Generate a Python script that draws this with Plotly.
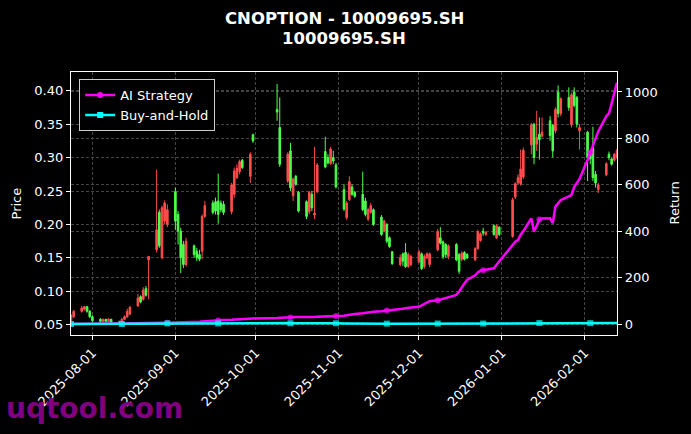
import plotly.graph_objects as go

# ---------------- data ----------------
dates = [
    "2025-07-24", "2025-07-25", "2025-07-28", "2025-07-29", "2025-07-30", "2025-07-31",
    "2025-08-01", "2025-08-04", "2025-08-05", "2025-08-06", "2025-08-07", "2025-08-08",
    "2025-08-11", "2025-08-12", "2025-08-13", "2025-08-14", "2025-08-15",
    "2025-08-18", "2025-08-19", "2025-08-20", "2025-08-21", "2025-08-22",
    "2025-08-25", "2025-08-26", "2025-08-27", "2025-08-28", "2025-08-29",
    "2025-09-01", "2025-09-02", "2025-09-03", "2025-09-04", "2025-09-05",
    "2025-09-08", "2025-09-09", "2025-09-10", "2025-09-11", "2025-09-12",
    "2025-09-15", "2025-09-16", "2025-09-17", "2025-09-18", "2025-09-19",
    "2025-09-22", "2025-09-23", "2025-09-24", "2025-09-25", "2025-09-26",
    "2025-09-29", "2025-09-30", "2025-10-09", "2025-10-10",
    "2025-10-13", "2025-10-14", "2025-10-15", "2025-10-16", "2025-10-17",
    "2025-10-20", "2025-10-21", "2025-10-22", "2025-10-23", "2025-10-24",
    "2025-10-27", "2025-10-28", "2025-10-29", "2025-10-30", "2025-10-31",
    "2025-11-03", "2025-11-04", "2025-11-05", "2025-11-06", "2025-11-07",
    "2025-11-10", "2025-11-11", "2025-11-12", "2025-11-13", "2025-11-14",
    "2025-11-17", "2025-11-18", "2025-11-19", "2025-11-20", "2025-11-21",
    "2025-11-24", "2025-11-25", "2025-11-26", "2025-11-27", "2025-11-28",
    "2025-12-01", "2025-12-02", "2025-12-03", "2025-12-04", "2025-12-05",
    "2025-12-08", "2025-12-09", "2025-12-10", "2025-12-11", "2025-12-12",
    "2025-12-15", "2025-12-16", "2025-12-17", "2025-12-18", "2025-12-19",
    "2025-12-22", "2025-12-23", "2025-12-24", "2025-12-25", "2025-12-26",
    "2025-12-29", "2025-12-30", "2025-12-31",
    "2026-01-05", "2026-01-06", "2026-01-07", "2026-01-08", "2026-01-09",
    "2026-01-12", "2026-01-13", "2026-01-14", "2026-01-15", "2026-01-16",
    "2026-01-19", "2026-01-20", "2026-01-21", "2026-01-22", "2026-01-23",
    "2026-01-26", "2026-01-27", "2026-01-28", "2026-01-29", "2026-01-30",
    "2026-02-02", "2026-02-03", "2026-02-04", "2026-02-05", "2026-02-06",
    "2026-02-09", "2026-02-10", "2026-02-11", "2026-02-12", "2026-02-13",
]

open_ = [
    .056, .062, .070, .073, .077, .070,
    .062, .058, .055, .058, .055, .058,
    .054, .052, .058, .062, .066,
    .078, .092, .088, .104, .147,
    .162, .218, .150, .205, .200,
    .249, .215, .190, .170, .140,
    .168, .160, .155, .160, .212,
    .232, .234, .235, .232, .230,
    .219, .245, .270, .279, .296,
    .272, .334, .372, .345,
    .265, .310, .243, .272, .248,
    .234, .219, .245, .214, .249,
    .309, .300, .291, .300, .289,
    .252, .210, .237, .256, .248,
    .245, .235, .208, .218, .222,
    .211, .190, .200, .180, .159,
    .140, .156, .158, .137, .140,
    .144, .156, .137, .150, .140,
    .162, .180, .174, .170, .152,
    .170, .155, .148, .158, .155,
    .147, .164, .176, .190, .185,
    .198, .180, .196,
    .182, .241, .262, .261, .271,
    .319, .350, .320, .335, .332,
    .355, .348, .340, .398, .366,
    .390, .349, .398, .390, .340,
    .338, .305, .315, .275, .252,
    .274, .305, .298, .296, .300,
]
high = [
    .066, .072, .078, .078, .078, .072,
    .064, .060, .059, .059, .060, .059,
    .056, .060, .064, .074, .078,
    .096, .094, .106, .108, .153,
    .282, .222, .228, .236, .230,
    .255, .220, .195, .175, .180,
    .170, .165, .162, .215, .235,
    .236, .240, .276, .236, .235,
    .262, .285, .290, .297, .298,
    .308, .336, .410, .390,
    .308, .322, .270, .274, .250,
    .236, .250, .250, .316, .292,
    .331, .305, .316, .310, .292,
    .260, .235, .272, .260, .250,
    .279, .240, .225, .232, .224,
    .214, .207, .202, .182, .160,
    .155, .158, .172, .158, .155,
    .162, .158, .155, .158, .158,
    .193, .196, .176, .172, .170,
    .172, .157, .160, .160, .157,
    .166, .192, .188, .195, .190,
    .200, .200, .197,
    .240, .263, .275, .312, .315,
    .352, .352, .370, .360, .360,
    .362, .350, .375, .408, .390,
    .405, .397, .405, .392, .350,
    .340, .310, .346, .280, .262,
    .293, .309, .300, .307, .313,
]
low = [
    .055, .060, .068, .071, .068, .060,
    .054, .053, .054, .054, .054, .053,
    .051, .051, .057, .060, .064,
    .077, .082, .086, .092, .088,
    .158, .165, .148, .200, .196,
    .192, .170, .127, .135, .137,
    .150, .145, .145, .148, .210,
    .215, .215, .201, .218, .214,
    .215, .240, .268, .275, .283,
    .262, .322, .355, .286,
    .262, .250, .235, .258, .218,
    .208, .215, .220, .208, .247,
    .284, .290, .289, .290, .254,
    .220, .207, .235, .243, .240,
    .220, .212, .205, .216, .198,
    .183, .188, .172, .165, .140,
    .137, .138, .135, .135, .137,
    .142, .132, .134, .148, .136,
    .160, .170, .148, .150, .148,
    .145, .126, .145, .146, .148,
    .145, .162, .174, .183, .183,
    .183, .178, .183,
    .180, .238, .260, .258, .268,
    .305, .290, .310, .297, .330,
    .325, .300, .336, .360, .362,
    .370, .345, .375, .345, .312,
    .265, .290, .265, .255, .247,
    .272, .296, .288, .294, .298,
]
close = [
    .064, .070, .075, .077, .070, .062,
    .056, .055, .058, .055, .058, .054,
    .052, .058, .062, .070, .076,
    .090, .084, .102, .094, .152,
    .192, .168, .225, .232, .222,
    .205, .190, .150, .140, .175,
    .155, .150, .148, .212, .228,
    .218, .220, .215, .222, .218,
    .259, .280, .284, .294, .285,
    .305, .325, .368, .290,
    .305, .255, .268, .260, .220,
    .212, .248, .225, .217, .289,
    .286, .292, .313, .295, .256,
    .223, .232, .264, .245, .242,
    .222, .215, .222, .228, .200,
    .185, .205, .175, .167, .141,
    .150, .145, .137, .155, .152,
    .159, .134, .152, .156, .156,
    .189, .172, .152, .155, .168,
    .147, .130, .157, .148, .150,
    .164, .189, .186, .187, .188,
    .185, .198, .185,
    .237, .261, .270, .283, .311,
    .349, .300, .330, .327, .338,
    .333, .310, .372, .366, .388,
    .375, .394, .378, .350, .345,
    .300, .298, .270, .262, .259,
    .291, .300, .290, .305, .311,
]

ai_strategy = [
    0, 0.3, 0.5, 1, 1, 1.2,
    1.2, 1.3, 1.5, 1.5, 1.8, 1.8,
    2, 2, 2.3, 2.6, 2.8,
    3, 3.2, 3.5, 3.6, 4,
    4.5, 4.8, 5, 5.2, 5.5,
    6, 6.5, 7, 7.5, 8,
    9, 9.5, 10, 11, 12,
    13, 14, 15, 16, 17,
    18, 19, 20, 21, 22,
    23, 24, 26, 27,
    28, 28, 29, 30, 30,
    29, 28, 29, 30, 31,
    31, 32, 33, 33, 34,
    36, 38, 40, 41, 43,
    46, 48, 50, 51, 53,
    55, 56, 58, 60, 62,
    64, 66, 68, 70, 71,
    74, 80, 88, 93, 98,
    102, 105, 108, 110, 115,
    125, 140, 160, 175, 190,
    210, 222, 230, 232, 234,
    240, 255, 270,
    343, 355, 362, 385, 400,
    455, 398, 427, 450, 455,
    456, 434, 506, 520, 534,
    550, 556, 590, 610, 625,
    707, 740, 770, 800, 830,
    895, 908, 950, 1000, 1040,
]

buy_and_hold = [
    0, 0.1, 0.2, 0.2, 0.1, 0,
    -0.1, -0.1, -0.1, -0.1, -0.1, -0.2,
    -0.2, -0.1, 0, 0.1, 0.2,
    0.4, 0.3, 0.6, 0.5, 1.4,
    2.0, 1.6, 2.5, 2.6, 2.5,
    2.2, 2.0, 1.3, 1.2, 1.7,
    1.4, 1.3, 1.3, 2.3, 2.6,
    2.4, 2.4, 2.4, 2.5, 2.4,
    3.0, 3.4, 3.4, 3.6, 3.5,
    3.8, 4.1, 4.7, 3.5,
    3.8, 3.0, 3.2, 3.1, 2.4,
    2.3, 2.9, 2.5, 2.4, 3.5,
    3.5, 3.6, 3.9, 3.6, 3.0,
    2.5, 2.6, 3.1, 2.8, 2.8,
    2.5, 2.4, 2.5, 2.6, 2.1,
    1.9, 2.2, 1.7, 1.6, 1.2,
    1.3, 1.3, 1.1, 1.4, 1.4,
    1.5, 1.1, 1.4, 1.4, 1.4,
    2.0, 1.7, 1.4, 1.4, 1.6,
    1.3, 1.0, 1.5, 1.3, 1.3,
    1.6, 2.0, 1.9, 1.9, 1.9,
    1.9, 2.1, 1.9,
    2.7, 3.1, 3.2, 3.4, 3.9,
    4.5, 3.7, 4.2, 4.1, 4.3,
    4.2, 3.8, 4.8, 4.7, 5.1,
    4.9, 5.2, 4.9, 4.5, 4.4,
    3.7, 3.7, 3.2, 3.1, 3.0,
    3.5, 3.7, 3.5, 3.8, 3.9,
]

month_ticks = ["2025-08-01", "2025-09-01", "2025-10-01", "2025-11-01",
               "2025-12-01", "2026-01-01", "2026-02-01"]
price_ticks = [0.05, 0.10, 0.15, 0.20, 0.25, 0.30, 0.35, 0.40]
return_ticks = [0, 200, 400, 600, 800, 1000]

# ---------------- styling ----------------
RED = "#ff4d4d"
GREEN = "#4dff4d"
MAGENTA = "#ff00ff"
CYAN = "#00ffff"
GRID = "#444444"
FONT = "DejaVu Sans"

MARK_EVERY = 13
marker_sizes = [6 if i % MARK_EVERY == 0 else 0 for i in range(len(dates))]

fig = go.Figure()

fig.add_trace(go.Candlestick(
    x=dates, open=open_, high=high, low=low, close=close,
    increasing=dict(line=dict(color=RED, width=1), fillcolor=RED),
    decreasing=dict(line=dict(color=GREEN, width=1), fillcolor=GREEN),
    whiskerwidth=0, showlegend=False, hoverinfo="skip",
))

fig.add_trace(go.Scatter(
    x=dates, y=ai_strategy, yaxis="y2", mode="lines+markers",
    line=dict(color=MAGENTA, width=2.5),
    marker=dict(size=marker_sizes, symbol="circle", color=MAGENTA, line=dict(width=0)),
    showlegend=False,
))
fig.add_trace(go.Scatter(
    x=dates, y=buy_and_hold, yaxis="y2", mode="lines+markers",
    line=dict(color=CYAN, width=2.5),
    marker=dict(size=marker_sizes, symbol="square", color=CYAN, line=dict(width=0)),
    showlegend=False,
))
# legend entries
fig.add_trace(go.Scatter(
    x=[None], y=[None], yaxis="y2", mode="lines+markers", name="AI Strategy",
    line=dict(color=MAGENTA, width=2.5),
    marker=dict(size=6, symbol="circle", color=MAGENTA),
))
fig.add_trace(go.Scatter(
    x=[None], y=[None], yaxis="y2", mode="lines+markers", name="Buy-and-Hold",
    line=dict(color=CYAN, width=2.5),
    marker=dict(size=6, symbol="square", color=CYAN),
))

axis_common = dict(
    showline=True, linecolor="white", linewidth=1.2,
    ticks="outside", tickcolor="white", ticklen=4,
    tickfont=dict(color="white", size=13, family=FONT),
    gridcolor=GRID, griddash="3px,2px", gridwidth=0.8, zeroline=False,
    automargin=False,
)

fig.update_layout(
    width=691, height=434,
    paper_bgcolor="black", plot_bgcolor="black",
    font=dict(family=FONT, color="white", size=13),
    margin=dict(l=71, r=74, t=72, b=99),
    boxgap=0.15,
    xaxis=dict(
        type="date", range=["2025-07-24", "2026-02-13"],
        tickvals=month_ticks, ticktext=month_ticks, tickangle=-45,
        showgrid=True, mirror=True, rangeslider=dict(visible=False),
        **axis_common,
    ),
    yaxis=dict(
        range=[0.0346, 0.428], tickvals=price_ticks, tickformat=".2f",
        showgrid=True, mirror=True, **axis_common,
    ),
    yaxis2=dict(
        overlaying="y", side="right", range=[-47.4, 1086],
        tickvals=return_ticks, showgrid=True, **axis_common,
    ),
    legend=dict(
        x=0.015, y=0.973, xanchor="left", yanchor="top",
        bgcolor="black", bordercolor="#cccccc", borderwidth=1,
        font=dict(color="white", size=13, family=FONT),
    ),
    showlegend=True,
    annotations=[
        dict(text="<b>CNOPTION - 10009695.SH</b>", x=0.5, y=1.2053, xref="paper", yref="paper",
             showarrow=False, font=dict(size=16.5, color="white", family=FONT),
             xanchor="center", yanchor="middle"),
        dict(text="<b>10009695.SH</b>", x=0.5, y=1.1255, xref="paper", yref="paper",
             showarrow=False, font=dict(size=16.5, color="white", family=FONT),
             xanchor="center", yanchor="middle"),
        dict(text="Price", x=-0.099, y=0.5, xref="paper", yref="paper", textangle=-90,
             showarrow=False, font=dict(size=13, color="white", family=FONT),
             xanchor="center", yanchor="middle"),
        dict(text="Return", x=1.1044, y=0.5, xref="paper", yref="paper", textangle=-90,
             showarrow=False, font=dict(size=13, color="white", family=FONT),
             xanchor="center", yanchor="middle"),
        dict(text="<b>uqtool.com</b>", x=-0.122, y=-0.2776, xref="paper", yref="paper",
             showarrow=False, font=dict(size=28, color="#800080", family=FONT),
             xanchor="left", yanchor="middle"),
    ],
)

fig.write_html(
    "out.html",
    config={"displayModeBar": False},
    post_script="document.body.style.margin='0';document.body.style.background='black';",
)
